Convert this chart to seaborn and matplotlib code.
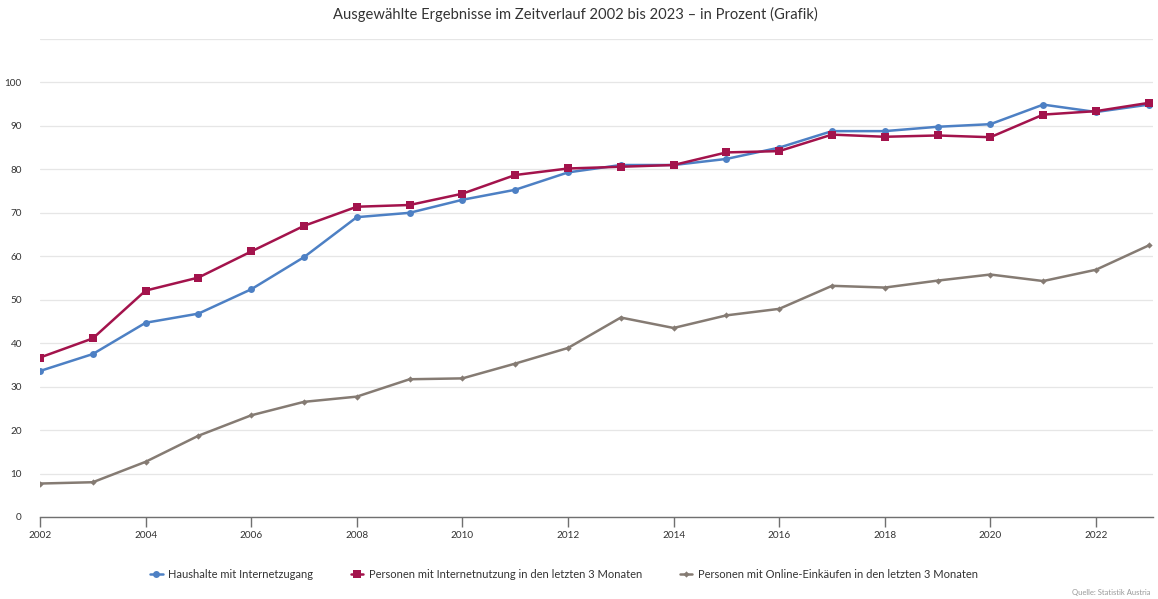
import matplotlib
matplotlib.use("Agg")
import matplotlib.pyplot as plt
import seaborn as sns
import pandas as pd

years = list(range(2002, 2024))

haushalte = [33.6, 37.5, 44.7, 46.8, 52.4, 59.8, 69.0, 70.0, 73.0, 75.3, 79.3, 81.0,
             81.0, 82.4, 85.0, 88.8, 88.8, 89.8, 90.4, 94.9, 93.2, 94.9]
internetnutzung = [36.7, 41.1, 52.1, 55.1, 61.1, 67.0, 71.4, 71.8, 74.4, 78.7, 80.2, 80.6,
                   81.0, 83.9, 84.2, 88.0, 87.5, 87.8, 87.4, 92.6, 93.4, 95.3]
online_einkauf = [7.7, 8.0, 12.7, 18.7, 23.4, 26.5, 27.7, 31.7, 31.9, 35.3, 38.9, 45.9,
                  43.5, 46.4, 47.9, 53.2, 52.8, 54.4, 55.8, 54.3, 56.9, 62.5]

series_names = [
    "Haushalte mit Internetzugang",
    "Personen mit Internetnutzung in den letzten 3 Monaten",
    "Personen mit Online-Einkäufen in den letzten 3 Monaten",
]
series_values = [haushalte, internetnutzung, online_einkauf]
colors = ["#4d80c4", "#a3134c", "#857b73"]
markers = ["o", "s", "D"]
marker_sizes = [5.0, 5.5, 3.2]

y_ticks = list(range(0, 120, 10))
x_ticks = list(range(2002, 2024, 2))

title = "Ausgewählte Ergebnisse im Zeitverlauf 2002 bis 2023 – in Prozent (Grafik)"
source = "Quelle: Statistik Austria"

df = pd.DataFrame(
    [(name, y, v) for name, vals in zip(series_names, series_values) for y, v in zip(years, vals)],
    columns=["Reihe", "Jahr", "Wert"],
)

sns.set_style("white")
plt.rcParams["font.family"] = ["Lato", "DejaVu Sans"]

fig = plt.figure(figsize=(11.58, 5.99), dpi=100)
ax = fig.add_axes([40 / 1158, 1 - 517 / 599, 1113 / 1158, 478 / 599])

for name, col, mk, ms in zip(series_names, colors, markers, marker_sizes):
    sns.lineplot(
        data=df[df["Reihe"] == name], x="Jahr", y="Wert", ax=ax,
        color=col, marker=mk, markersize=ms, markeredgewidth=0,
        linewidth=1.8, label=name, zorder=3,
    )

ax.set_xlim(2002, 2023.08)
ax.set_ylim(0, 110)
ax.set_yticks(y_ticks)
ax.set_yticklabels([str(t) if t <= 100 else "" for t in y_ticks])
ax.set_xticks(x_ticks)
ax.set_xticklabels([str(t) for t in x_ticks])
ax.set_xlabel("")
ax.set_ylabel("")

ax.grid(axis="y", color="#e6e6e6", linewidth=0.9, zorder=0)
ax.grid(axis="x", visible=False)
for side in ["left", "right", "top"]:
    ax.spines[side].set_visible(False)
ax.spines["bottom"].set_color("#707070")
ax.spines["bottom"].set_linewidth(1.0)

ax.tick_params(axis="y", length=0, pad=13, labelsize=7.2, labelcolor="#333333")
ax.tick_params(axis="x", length=7, width=1.0, color="#707070", pad=3,
               labelsize=7.2, labelcolor="#333333", direction="out", bottom=True)

handles, labels = ax.get_legend_handles_labels()
ax.get_legend().remove()
fig.legend(handles, labels, loc="center", bbox_to_anchor=(0.487, 1 - 574 / 599),
           ncol=3, frameon=False, fontsize=8, labelcolor="#333333",
           handlelength=1.1, handletextpad=0.5, columnspacing=3.4)

fig.text(0.497, 1 - 14 / 599, title, ha="center", va="center", fontsize=10.6, color="#333333")
fig.text(1150 / 1158, 1 - 592 / 599, source, ha="right", va="center", fontsize=5.5, color="#999999")

fig.savefig("out.png", dpi=100)
